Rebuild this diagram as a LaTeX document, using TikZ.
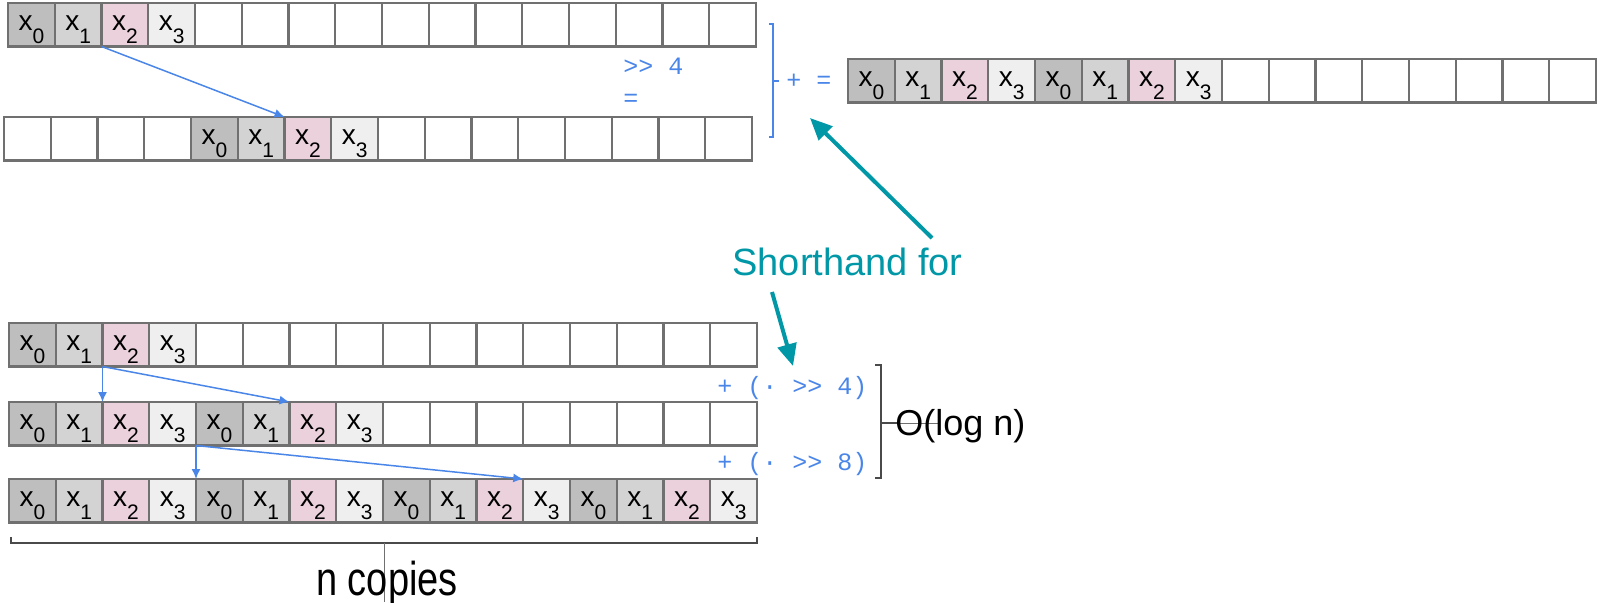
\documentclass[tikz,border=0pt]{standalone}
\usepackage{fontspec}
\setmainfont{Liberation Sans}
\newfontfamily\kodefont{Liberation Mono}
\usetikzlibrary{arrows.meta,positioning}

\definecolor{kant}{HTML}{707070}
\definecolor{tone0}{HTML}{BEBEBE}
\definecolor{tone1}{HTML}{D3D3D3}
\definecolor{tone2}{HTML}{EAD1DC}
\definecolor{tone3}{HTML}{EFEFEF}
\definecolor{blaa}{HTML}{4A86E8}
\definecolor{petrol}{HTML}{0097A7}
\definecolor{klamme}{HTML}{4A4A4A}

\newcommand{\xsub}[1]{x\raisebox{-6.6pt}{\fontsize{10.5}{10.5}\selectfont #1}}

\begin{document}
\begin{tikzpicture}[x=0.5pt, y=-0.5pt]

\tikzstyle{celle}=[rectangle, draw=kant, line width=1.1pt, anchor=north west, minimum width=23.375pt, minimum height=21.75pt, inner sep=0pt, outer sep=0pt, text height=12pt, text depth=6.6pt, font=\fontsize{14}{14}\selectfont]
\tikzstyle{pil}=[-{Latex[length=5pt, width=4.5pt]}, draw=blaa, line width=0.75pt]
\tikzstyle{stor}=[-{Triangle[length=11pt, width=9.5pt]}, draw=petrol, line width=2pt]
\tikzstyle{kode}=[text=blaa, inner sep=0pt, font=\kodefont\fontsize{12.5}{12.5}\selectfont]
\tikzstyle{tekst}=[inner sep=0pt, font=\fontsize{19}{19}\selectfont]

\useasboundingbox (0,0) rectangle (1598,602);

% arrays: name / left / top / first filled / last filled
\foreach \rad/\px/\py/\fra/\til in {t/8/3/1/4, u/4/117/5/8, r/848/59/1/8, a/9/323/1/4, b/9/402/1/8, c/9/479/1/16}{
  \foreach \i in {1,...,16}{
    \pgfmathtruncatemacro{\k}{mod(\i-1,4)}
    \ifnum\i<\fra \def\innhold{}\def\farge{white}%
    \else\ifnum\i>\til \def\innhold{}\def\farge{white}%
    \else \edef\innhold{\noexpand\xsub{\k}}\edef\farge{tone\k}\fi\fi
    \node[celle, fill=\farge] (\rad-\i) at (\px+\i*46.75-46.75, \py) {\innhold};
  }
}

% shift and add, top
\draw[pil] (t-3.south west) -- (u-7.north west);
\node[kode, anchor=base west] (skift) at (623,74) {>> 4};
\node[kode, anchor=base west] (likhet) at (623,106) {=};
\draw[blaa, line width=1pt] (769,24) -- (773,24) -- (773,137) -- (769,137);
\draw[blaa, line width=1pt] (773,81) -- (779,81);
\node[kode, anchor=base west] (sum) at (786,88) {+ =};

% doubling steps
\draw[pil] (a-3.south west) -- (b-3.north west);
\draw[pil] (a-3.south west) -- (b-7.north west);
\draw[pil] (b-5.south west) -- (c-5.north west);
\draw[pil] (b-5.south west) -- (c-12.north west);
\node[kode, anchor=base west] (steg1) at (717,394) {+ (· >> 4)};
\node[kode, anchor=base west] (steg2) at (717,470) {+ (· >> 8)};

\draw[klamme, line width=1pt] (875,365) -- (881,365) -- (881,478) -- (875,478);
\draw[kant, line width=0.5pt] (897,423) -- (940,423);
\draw[klamme, line width=1pt] (881,423) -- (897,423);
\node[tekst, anchor=base west, font=\fontsize{18}{18}\selectfont] (logn) at (895,435) {O(log n)};

% n copies
\draw[klamme, line width=1pt] (11,537) -- (11,543) -- (757,543) -- (757,537);
\draw[kant, line width=0.5pt] (384,543) -- (384,602);
\node[tekst, anchor=base] (kopier) at (387,595) {\scalebox{1}[1.25]{n copies}};

% shorthand
\node[tekst, anchor=base west, text=petrol] (kort) at (732,275) {Shorthand for};
\coordinate (kortopp) at (932,238);
\coordinate (kortned) at (772,292);
\coordinate (pluss) at (810,118);
\coordinate (steg) at (793,366);
\draw[stor] (kortopp) -- (pluss);
\draw[stor] (kortned) -- (steg);

\end{tikzpicture}
\end{document}
